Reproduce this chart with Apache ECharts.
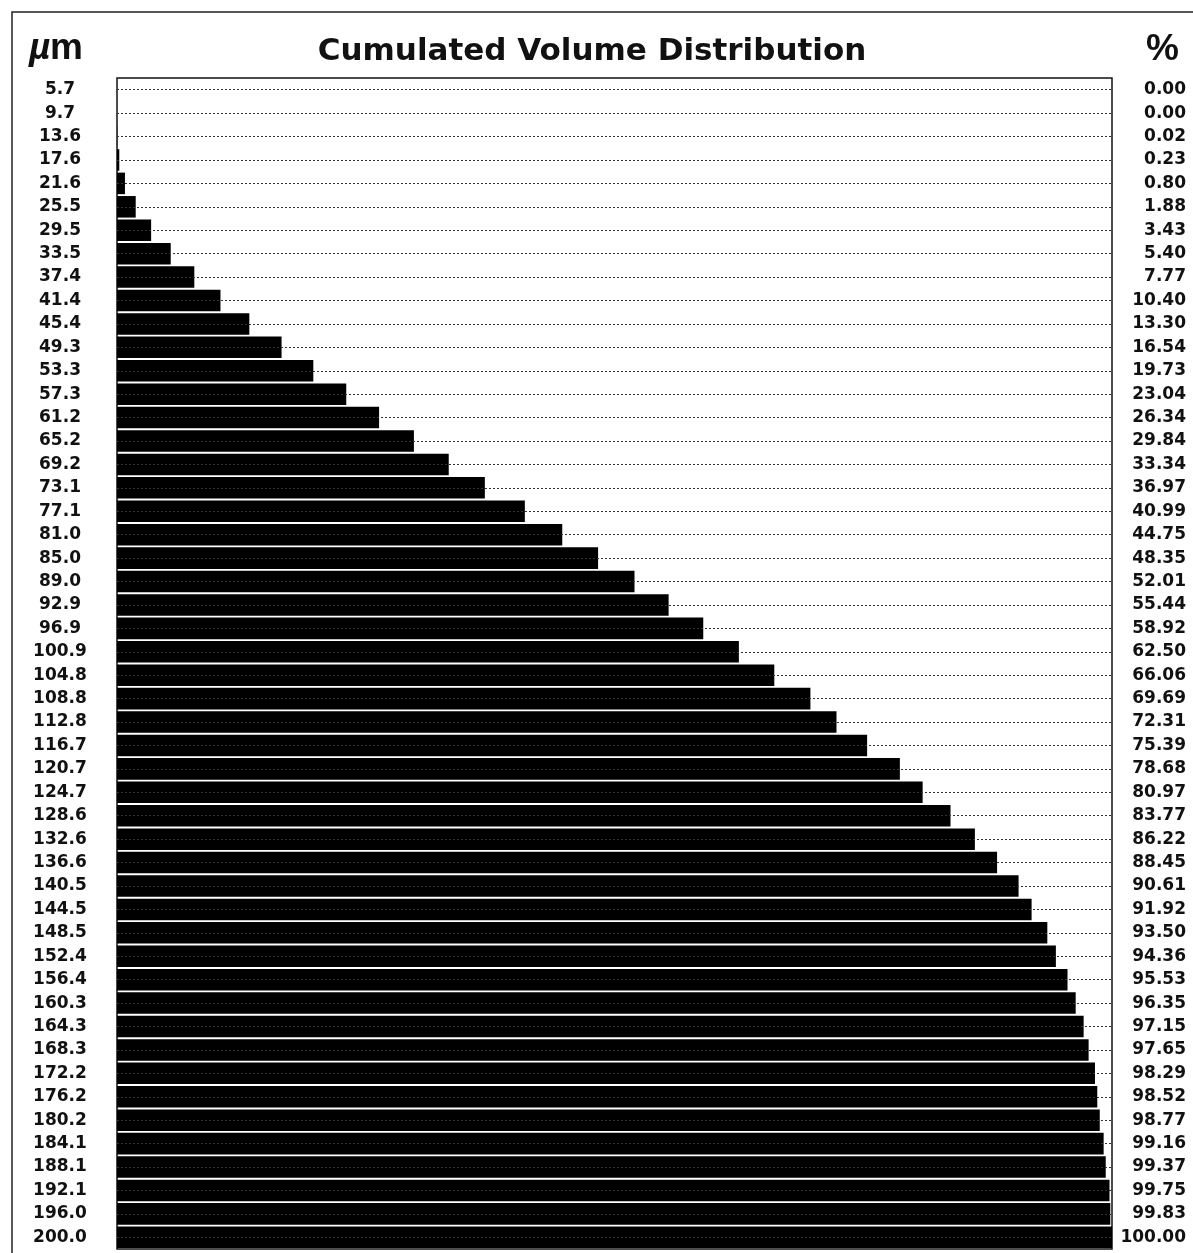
<!DOCTYPE html>
<html>
<head>
<meta charset="utf-8">
<script src="https://cdn.jsdelivr.net/npm/echarts@6/dist/echarts.min.js"></script>
<style>
  html, body { margin: 0; padding: 0; background: #fff; }
  #chart { width: 1193px; height: 1253px; }
</style>
</head>
<body>
<div id="chart"></div>
<script>
// particle size classes (µm)
const sizes = ['5.7', '9.7', '13.6', '17.6', '21.6', '25.5', '29.5', '33.5', '37.4', '41.4',
  '45.4', '49.3', '53.3', '57.3', '61.2', '65.2', '69.2', '73.1', '77.1', '81.0',
  '85.0', '89.0', '92.9', '96.9', '100.9', '104.8', '108.8', '112.8', '116.7', '120.7',
  '124.7', '128.6', '132.6', '136.6', '140.5', '144.5', '148.5', '152.4', '156.4', '160.3',
  '164.3', '168.3', '172.2', '176.2', '180.2', '184.1', '188.1', '192.1', '196.0', '200.0'];

// cumulated volume (%)
const cumVolume = [0.00, 0.00, 0.02, 0.23, 0.80, 1.88, 3.43, 5.40, 7.77, 10.40,
  13.30, 16.54, 19.73, 23.04, 26.34, 29.84, 33.34, 36.97, 40.99, 44.75,
  48.35, 52.01, 55.44, 58.92, 62.50, 66.06, 69.69, 72.31, 75.39, 78.68,
  80.97, 83.77, 86.22, 88.45, 90.61, 91.92, 93.50, 94.36, 95.53, 96.35,
  97.15, 97.65, 98.29, 98.52, 98.77, 99.16, 99.37, 99.75, 99.83, 100.00];

const chart = echarts.init(document.getElementById('chart'));

const labelFont = { fontFamily: 'DejaVu Sans', fontWeight: 'bold', fontSize: 17, color: '#111' };

const option = {
  backgroundColor: '#fff',
  animation: false,
  title: {
    text: 'Cumulated Volume Distribution',
    left: 587,
    top: 31,
    textAlign: 'center',
    textStyle: { fontFamily: 'DejaVu Sans', fontWeight: 'bold', fontSize: 31, color: '#111' }
  },
  graphic: [
    { type: 'rect', shape: { x: 12, y: 12, width: 1200, height: 1260 }, style: { fill: 'none', stroke: '#222', lineWidth: 1.5 } },
    { type: 'text', left: 29, top: 30, style: { text: 'µ', font: 'italic bold 37px "Liberation Sans"', fill: '#111' } },
    { type: 'text', left: 50, top: 30, style: { text: 'm', font: 'bold 37px "Liberation Sans"', fill: '#111' } },
    { type: 'text', left: 1146, top: 31, style: { text: '%', font: 'bold 37px "Liberation Sans"', fill: '#111' } }
  ],
  grid: {
    left: 117, right: 81, top: 78, bottom: 4,
    show: true, borderColor: '#111', borderWidth: 1.5, backgroundColor: '#fff'
  },
  xAxis: { type: 'value', min: 0, max: 100, show: false },
  yAxis: [
    {
      type: 'category', data: sizes, inverse: true, position: 'left',
      axisLine: { show: false }, axisTick: { show: false },
      axisLabel: Object.assign({ align: 'center', margin: 57, interval: 0 }, labelFont)
    },
    {
      type: 'category', data: sizes, inverse: true, position: 'right',
      axisLine: { show: false }, axisTick: { show: false },
      axisLabel: Object.assign({
        align: 'right', margin: 74, interval: 0,
        formatter: (v, i) => cumVolume[i].toFixed(2)
      }, labelFont)
    }
  ],
  series: [{
    type: 'bar',
    yAxisIndex: 0,
    data: cumVolume,
    barWidth: '92%',
    itemStyle: { color: '#000' },
    markLine: {
      silent: true,
      symbol: 'none',
      label: { show: false },
      lineStyle: { type: [2, 2], color: '#333', width: 1 },
      data: sizes.map(s => ({ yAxis: s }))
    },
    z: 3
  }]
};

chart.setOption(option);
</script>
</body>
</html>
